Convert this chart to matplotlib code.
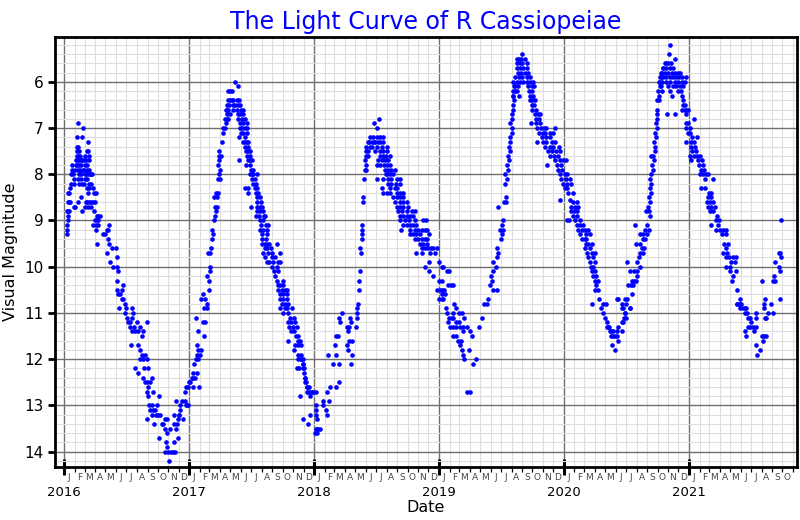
import numpy as np
import matplotlib
matplotlib.use('Agg')
from matplotlib import pyplot as plt
import matplotlib.dates as mdates
import matplotlib.transforms as mtransforms

# observations: (days since 2016-01-01, visual magnitude)
cycle_2016 = [
    (8, 9.3), (8, 9.2), (9, 9.1), (10, 9.0), (12, 8.9), (9, 8.8), (12, 8.8), (14, 8.8), (12, 8.6), (15, 8.6),
    (18, 8.6), (12, 8.4), (15, 8.4), (17, 8.3), (20, 8.2), (19, 8.0), (22, 7.9), (24, 7.8), (26, 8.0), (28, 8.1),
    (30, 8.2), (32, 7.9), (34, 7.7), (36, 7.8), (28, 8.7), (33, 8.7), (42, 6.9), (39, 7.2), (52, 7.2), (39, 7.4),
    (41, 7.4), (37, 7.5), (45, 7.5), (38, 7.6), (42, 7.6), (46, 7.6), (40, 7.7), (44, 7.7), (48, 7.7), (52, 7.7),
    (37, 7.8), (43, 7.8), (50, 7.8), (41, 7.9), (47, 7.9), (55, 7.9), (44, 8.0), (50, 8.0), (40, 8.1), (48, 8.1),
    (45, 8.2), (53, 8.2), (50, 8.5), (42, 8.6), (52, 8.8), (56, 7.0), (69, 7.3), (66, 7.5), (70, 7.5), (60, 7.6),
    (74, 7.6), (58, 7.7), (64, 7.7), (72, 7.7), (62, 7.8), (68, 7.8), (58, 7.9), (66, 7.9), (74, 7.9), (60, 8.0),
    (64, 8.0), (70, 8.0), (76, 8.0), (62, 8.1), (68, 8.1), (58, 8.2), (72, 8.2), (66, 8.3), (74, 8.3), (70, 8.4),
    (63, 8.6), (68, 8.6), (74, 8.6), (62, 8.7), (70, 8.7), (78, 8.0), (82, 8.0), (80, 8.2), (84, 8.3), (86, 8.4),
    (92, 8.4), (78, 8.6), (84, 8.6), (90, 8.6), (80, 8.7), (88, 8.8), (90, 9.0), (95, 9.0), (84, 9.1), (94, 9.1),
    (92, 9.2), (95, 8.9), (96, 9.5), (98, 8.9), (104, 8.9), (100, 9.0), (99, 9.1), (115, 9.3), (120, 9.3), (125, 9.2),
    (128, 9.2), (130, 9.1), (128, 9.4), (130, 9.5), (125, 9.7), (135, 9.9), (140, 9.6), (152, 9.6), (144, 10.0), (154, 10.0),
    (159, 10.1), (154, 9.8), (154, 10.3), (173, 10.4), (156, 10.5), (159, 10.6), (164, 10.6), (169, 10.5), (161, 10.9), (169, 10.7),
    (173, 10.7), (178, 10.8), (181, 10.9), (178, 11.0), (183, 11.1), (188, 11.2), (193, 11.2), (198, 11.1), (201, 11.0), (198, 10.9),
    (193, 11.3), (198, 11.4), (203, 11.3), (207, 11.4), (212, 11.2), (217, 11.4), (222, 11.3), (227, 11.5), (232, 11.4), (241, 11.2),
    (196, 11.7), (206, 12.2), (215, 12.3), (217, 11.7), (222, 11.8), (227, 11.9), (222, 12.0), (232, 12.0), (236, 11.9), (241, 12.0),
    (246, 12.2), (234, 12.2), (230, 12.4), (236, 12.5), (241, 12.5), (246, 12.6), (251, 12.5), (256, 12.4), (261, 12.7), (241, 12.7),
    (244, 12.8), (249, 13.0), (256, 13.0), (261, 13.1), (266, 13.1), (271, 13.0), (276, 12.8), (275, 13.2), (243, 13.3), (263, 13.4),
    (251, 13.1), (256, 13.2), (268, 13.2), (280, 13.2), (278, 13.7), (285, 13.4), (290, 13.4), (295, 13.3), (300, 13.3), (295, 13.5),
    (300, 13.6), (298, 13.8), (302, 13.9), (305, 14.0), (295, 14.0), (307, 14.2), (310, 13.5), (320, 13.4), (321, 13.8), (324, 14.0),
    (326, 12.9), (327, 13.5), (329, 13.4), (333, 13.7), (334, 13.3), (336, 13.2), (339, 13.1), (339, 13.0), (344, 12.9), (349, 13.3),
    (354, 12.9), (357, 13.0), (359, 13.0), (352, 12.7), (357, 12.6), (313, 14.0), (319, 14.0), (322, 13.2), (337, 13.2), (363, 13.0),
]

cycle_2017 = [
    (363, 12.6), (368, 12.5), (373, 12.4), (378, 12.4), (383, 12.4), (376, 12.3), (388, 12.3), (366, 12.5), (381, 12.1), (386, 12.0),
    (392, 12.0), (390, 11.9), (397, 11.9), (392, 11.8), (399, 11.8), (388, 11.7), (378, 12.6), (395, 12.6), (392, 11.4), (386, 11.1),
    (407, 11.2), (412, 11.2), (410, 11.5), (400, 10.7), (407, 10.6), (412, 10.7), (417, 10.8), (419, 10.9), (409, 10.9), (425, 10.5),
    (418, 10.2), (424, 10.3), (428, 10.1), (427, 10.0), (422, 9.7), (427, 9.7), (429, 9.6), (432, 9.4), (436, 9.3), (433, 9.2),
    (439, 9.0), (441, 8.9), (444, 8.8), (446, 8.7), (441, 8.7), (439, 8.5), (446, 8.5), (444, 8.4), (451, 8.4), (451, 8.1),
    (456, 8.1), (454, 8.0), (456, 7.9), (451, 7.8), (453, 7.7), (454, 7.6), (458, 7.6), (454, 7.5), (461, 7.3), (466, 7.1),
    (470, 7.0), (466, 7.0), (473, 6.9), (470, 6.8), (475, 6.8), (477, 6.7), (473, 6.6), (480, 6.6), (477, 6.5), (483, 6.5),
    (480, 6.4), (485, 6.4), (478, 6.2), (485, 6.2), (490, 6.2), (500, 6.0), (509, 6.1),
    (490, 6.4), (495, 6.4), (505, 6.4), (512, 6.4), (493, 6.5), (500, 6.5), (509, 6.5), (514, 6.5), (475, 6.6), (495, 6.6),
    (505, 6.6), (517, 6.6), (522, 6.6), (485, 6.7), (507, 6.7), (514, 6.7), (524, 6.7), (480, 6.8), (509, 6.8), (519, 6.8),
    (529, 6.8), (514, 6.9), (524, 6.9), (534, 6.9), (514, 7.0), (519, 7.0), (529, 7.0), (534, 7.0), (517, 7.1), (524, 7.1),
    (534, 7.1), (512, 7.2), (529, 7.2), (524, 7.3), (529, 7.3), (534, 7.3), (539, 7.3), (529, 7.4), (539, 7.4), (532, 7.5),
    (539, 7.5), (544, 7.5), (534, 7.6), (544, 7.6), (512, 7.7), (539, 7.7), (544, 7.7), (548, 7.7), (532, 7.8), (544, 7.8),
    (545, 7.9), (551, 7.9), (544, 8.0), (548, 8.0), (553, 8.0), (563, 8.0), (548, 8.1), (558, 8.1), (553, 8.2), (561, 8.2),
    (529, 8.3), (539, 8.3), (558, 8.3), (563, 8.3), (539, 8.4), (561, 8.4), (568, 8.4), (563, 8.5), (573, 8.5), (565, 8.6),
    (575, 8.6), (545, 8.7), (563, 8.7), (573, 8.7), (578, 8.7), (563, 8.8), (573, 8.8), (582, 8.8), (561, 8.9), (571, 8.9),
    (584, 8.9), (587, 8.9), (573, 9.0), (582, 9.0), (576, 9.1), (590, 9.1), (597, 9.1), (573, 9.2), (582, 9.2), (594, 9.2),
    (578, 9.3), (594, 9.3), (578, 9.4), (590, 9.4), (578, 9.5), (587, 9.5), (594, 9.5), (600, 9.5), (623, 9.5), (587, 9.6),
    (594, 9.6), (604, 9.6), (582, 9.7), (597, 9.7), (607, 9.7), (631, 9.7), (587, 9.8), (607, 9.8), (617, 9.8), (592, 9.9),
    (600, 9.9), (612, 9.9), (626, 9.9), (631, 9.9), (607, 10.0), (621, 10.0), (614, 10.1), (626, 10.1), (617, 10.2), (621, 10.3),
    (639, 10.3), (626, 10.4), (631, 10.4), (641, 10.4), (626, 10.5), (636, 10.5), (646, 10.5), (651, 10.5), (631, 10.6), (641, 10.6),
    (653, 10.6), (631, 10.7), (641, 10.7), (651, 10.7), (636, 10.8), (646, 10.8), (655, 10.8), (631, 10.9), (646, 10.9), (653, 10.9),
    (665, 10.9), (641, 11.0), (655, 11.0), (660, 11.1), (672, 11.1), (655, 11.2), (663, 11.2), (675, 11.2), (658, 11.3), (668, 11.3),
    (680, 11.3), (662, 11.4), (672, 11.4), (678, 11.5), (685, 11.5), (655, 11.6), (683, 11.6), (675, 11.7), (685, 11.7), (672, 11.8),
    (685, 11.9), (693, 11.9), (685, 12.0), (693, 12.0), (697, 12.0), (680, 12.2), (688, 12.2), (701, 12.2), (697, 12.1), (704, 12.4),
    (707, 12.5), (711, 12.6), (717, 12.6), (714, 12.7), (719, 12.7), (724, 12.7), (735, 12.7), (690, 12.8), (736, 13.0), (697, 13.3),
    (714, 13.4), (719, 13.2), (736, 13.2), (738, 13.3), (743, 13.5), (738, 13.6),
]

cycle_2018 = [
    (690, 11.6), (693, 11.7), (694, 12.0), (699, 12.1), (697, 12.2), (701, 12.3), (704, 12.4), (704, 12.5), (709, 12.6), (711, 12.7),
    (729, 12.7), (719, 12.8), (758, 13.0), (756, 12.9), (775, 12.9), (736, 13.1), (766, 13.1), (768, 13.2), (735, 13.5), (740, 13.5),
    (748, 13.5), (733, 13.6), (768, 12.7), (777, 12.6), (795, 12.6), (805, 12.5), (787, 12.1), (795, 11.9), (805, 12.1), (772, 11.9),
    (792, 11.7), (795, 11.5), (802, 11.5), (806, 11.2), (805, 11.1), (811, 11.0), (831, 11.8), (826, 11.7), (834, 11.6), (841, 11.9),
    (838, 12.1), (841, 11.6), (826, 11.3), (834, 11.3), (831, 11.4), (838, 11.2), (836, 11.1), (853, 11.3), (855, 11.1), (857, 11.0),
    (855, 10.9), (860, 10.8), (863, 10.5), (863, 10.3), (865, 10.1), (867, 9.7), (865, 9.6), (870, 9.4), (870, 9.3), (872, 9.2),
    (872, 9.1), (875, 8.6), (875, 8.5), (877, 8.1), (879, 7.9), (882, 7.9), (884, 7.8), (879, 7.7), (884, 7.6), (889, 7.6),
    (889, 7.5), (894, 7.4), (899, 7.4), (892, 7.3), (906, 7.3), (906, 6.9), (914, 7.0), (920, 6.8),
    (894, 7.2), (904, 7.2), (914, 7.2), (923, 7.2), (931, 7.2), (889, 7.3), (899, 7.3), (909, 7.3), (918, 7.3), (923, 7.3),
    (933, 7.3), (884, 7.4), (914, 7.4), (928, 7.4), (945, 7.4), (884, 7.5), (909, 7.5), (923, 7.5), (933, 7.5), (945, 7.5),
    (923, 7.6), (931, 7.6), (941, 7.6), (953, 7.6), (918, 7.7), (928, 7.7), (938, 7.7), (948, 7.7), (914, 7.8), (923, 7.8),
    (935, 7.8), (945, 7.8), (953, 7.8), (938, 7.9), (948, 7.9), (957, 7.9), (967, 7.9), (941, 8.0), (945, 8.0), (953, 8.0),
    (962, 8.0), (914, 8.1), (931, 8.1), (948, 8.1), (957, 8.1), (972, 8.1), (982, 8.1), (948, 8.2), (957, 8.2), (970, 8.2),
    (982, 8.2), (928, 8.3), (953, 8.3), (967, 8.3), (974, 8.3), (931, 8.4), (945, 8.4), (953, 8.4), (972, 8.4), (982, 8.4),
    (990, 8.4), (962, 8.5), (972, 8.5), (982, 8.5), (992, 8.5), (967, 8.6), (982, 8.6), (992, 8.6), (1001, 8.6), (972, 8.7),
    (982, 8.7), (992, 8.7), (1006, 8.7), (977, 8.8), (987, 8.8), (1001, 8.8), (1016, 8.8), (1026, 8.8), (982, 8.9), (992, 8.9),
    (1001, 8.9), (1011, 8.9), (1021, 8.9), (982, 9.0), (996, 9.0), (1009, 9.0), (1026, 9.0), (1050, 9.0), (1058, 9.0), (992, 9.1),
    (1001, 9.1), (1011, 9.1), (1021, 9.1), (1030, 9.1), (984, 9.2), (1011, 9.2), (1026, 9.2), (1035, 9.2), (1045, 9.2), (1055, 9.2),
    (1060, 9.2), (1011, 9.3), (1021, 9.3), (1030, 9.3), (1040, 9.3), (1067, 9.3), (1026, 9.4), (1035, 9.4), (1045, 9.4), (1055, 9.4),
    (1062, 9.4), (1040, 9.5), (1050, 9.5), (1060, 9.5), (1045, 9.6), (1055, 9.6), (1065, 9.6), (1072, 9.6), (1079, 9.6), (1089, 9.6),
    (1030, 9.7), (1045, 9.7), (1069, 9.7), (1084, 9.7), (1067, 9.9), (1097, 9.9), (1055, 10.0), (1104, 10.0), (1108, 10.0), (1067, 10.1),
    (1118, 10.1), (1126, 10.1), (1079, 10.2), (1097, 10.3), (1106, 10.3), (1123, 10.4), (1130, 10.4), (1138, 10.4), (1089, 10.5), (1099, 10.5),
    (1104, 10.5), (1110, 10.5), (1104, 10.6), (1113, 10.6), (1097, 10.7), (1104, 10.7), (1108, 10.7), (1140, 10.8), (1116, 10.9), (1145, 10.9),
    (1120, 11.0), (1138, 11.0), (1155, 11.0), (1162, 11.0), (1126, 11.1), (1133, 11.1), (1138, 11.1), (1169, 11.1), (1123, 11.2), (1147, 11.2),
    (1155, 11.2), (1128, 11.3), (1136, 11.3), (1145, 11.3), (1157, 11.3), (1165, 11.3), (1177, 11.3), (1167, 11.4), (1186, 11.4), (1136, 11.5),
    (1145, 11.5), (1193, 11.5), (1152, 11.6), (1160, 11.6), (1157, 11.7), (1162, 11.8), (1184, 11.8), (1167, 11.9), (1169, 12.0), (1204, 12.0),
    (1194, 12.1), (1177, 12.7), (1186, 12.7),
]

cycle_2019 = [
    (1214, 11.3), (1223, 11.1), (1227, 10.8), (1235, 10.8), (1240, 10.7), (1253, 10.5), (1266, 10.5), (1245, 10.4), (1250, 10.3), (1247, 10.2),
    (1255, 10.1), (1253, 9.9), (1262, 10.0), (1266, 9.8), (1269, 9.7), (1266, 9.6), (1276, 9.4), (1279, 9.3), (1274, 9.2), (1282, 9.2),
    (1279, 9.1), (1284, 9.0), (1269, 8.7), (1286, 8.6), (1292, 8.6), (1292, 8.5), (1289, 8.2), (1294, 8.1), (1289, 8.0), (1298, 7.9),
    (1295, 7.8), (1301, 7.7), (1298, 7.6), (1303, 7.5), (1300, 7.4), (1305, 7.3), (1303, 7.2), (1308, 7.1), (1308, 7.0), (1305, 6.9),
    (1310, 6.8), (1308, 6.7), (1311, 6.6), (1313, 6.5), (1315, 6.4), (1313, 6.3), (1318, 6.2), (1315, 6.1),
    (1340, 5.4), (1323, 5.5), (1331, 5.5), (1337, 5.5), (1347, 5.5), (1323, 5.6), (1332, 5.6), (1340, 5.6), (1352, 5.6), (1325, 5.7),
    (1332, 5.7), (1342, 5.7), (1352, 5.7), (1328, 5.8), (1337, 5.8), (1347, 5.8), (1357, 5.8), (1318, 5.9), (1331, 5.9), (1340, 5.9),
    (1352, 5.9), (1362, 5.9), (1313, 6.0), (1323, 6.0), (1332, 6.0), (1342, 6.0), (1352, 6.0), (1362, 6.0), (1371, 6.0), (1318, 6.1),
    (1328, 6.1), (1357, 6.1), (1367, 6.1), (1373, 6.1), (1313, 6.2), (1323, 6.2), (1360, 6.2), (1369, 6.2), (1313, 6.3), (1331, 6.3),
    (1362, 6.3), (1371, 6.3), (1362, 6.4), (1369, 6.4), (1376, 6.4), (1367, 6.5), (1373, 6.5), (1369, 6.6), (1381, 6.6), (1376, 6.7),
    (1386, 6.7), (1391, 6.7), (1379, 6.8), (1389, 6.8), (1364, 6.9), (1381, 6.9), (1391, 6.9), (1383, 7.0), (1393, 7.0), (1403, 7.0),
    (1410, 7.0), (1435, 7.0), (1389, 7.1), (1399, 7.1), (1406, 7.1), (1420, 7.1), (1430, 7.1), (1396, 7.2), (1410, 7.2), (1420, 7.2),
    (1383, 7.3), (1401, 7.3), (1410, 7.3), (1425, 7.3), (1435, 7.3), (1406, 7.4), (1420, 7.4), (1430, 7.4), (1447, 7.4), (1415, 7.5),
    (1425, 7.5), (1438, 7.5), (1449, 7.5), (1420, 7.6), (1432, 7.6), (1444, 7.6), (1435, 7.7), (1449, 7.7), (1459, 7.7), (1467, 7.7),
    (1413, 7.8), (1442, 7.8), (1454, 7.8), (1444, 7.9), (1457, 7.9), (1449, 8.0), (1464, 8.0), (1471, 8.0), (1454, 8.1), (1467, 8.1),
    (1479, 8.1), (1459, 8.2), (1471, 8.2), (1483, 8.2), (1464, 8.3), (1471, 8.3), (1474, 8.4), (1488, 8.4), (1451, 8.55), (1479, 8.55),
    (1488, 8.6), (1498, 8.6), (1483, 8.7), (1493, 8.7), (1503, 8.7), (1481, 8.8), (1490, 8.8), (1500, 8.8), (1488, 8.9), (1498, 8.9),
    (1471, 9.0), (1477, 9.0), (1493, 9.0), (1508, 9.0), (1498, 9.1), (1508, 9.1), (1516, 9.1), (1503, 9.2), (1513, 9.2), (1522, 9.2),
    (1532, 9.2), (1508, 9.3), (1525, 9.3), (1537, 9.3), (1513, 9.4), (1522, 9.4), (1527, 9.4), (1525, 9.5), (1532, 9.5), (1542, 9.5),
    (1522, 9.6), (1537, 9.6), (1529, 9.7), (1542, 9.7), (1552, 9.7), (1532, 9.8), (1547, 9.8), (1537, 9.9), (1552, 9.9), (1540, 10.0),
    (1547, 10.0), (1544, 10.1), (1552, 10.1), (1547, 10.2), (1555, 10.2), (1552, 10.3), (1561, 10.3), (1556, 10.4), (1552, 10.5), (1561, 10.5),
    (1564, 10.7), (1615, 10.7), (1542, 10.8), (1574, 10.8), (1584, 10.8), (1571, 10.9), (1576, 11.0), (1581, 11.1), (1586, 11.2), (1586, 11.3),
    (1593, 11.3), (1595, 11.4), (1605, 11.4), (1615, 11.4), (1600, 11.5), (1605, 11.5), (1610, 11.5), (1615, 11.5), (1620, 10.7), (1632, 10.8),
    (1644, 10.8), (1632, 10.9), (1654, 10.9), (1639, 11.0), (1636, 11.1), (1642, 11.1), (1634, 11.2), (1620, 11.3), (1620, 11.6), (1603, 11.7),
    (1610, 11.8), (1598, 11.4), (1591, 11.3),
]

cycle_2020 = [
    (1630, 11.4), (1632, 11.2), (1639, 11.0), (1634, 10.9), (1639, 10.7), (1646, 10.7), (1659, 10.6), (1654, 10.9), (1649, 10.4), (1656, 10.4),
    (1662, 10.4), (1659, 10.3), (1666, 10.3), (1671, 10.3), (1675, 10.2), (1654, 10.1), (1666, 10.1), (1675, 10.1), (1646, 9.9), (1675, 9.9),
    (1683, 10.0), (1681, 9.8), (1685, 9.7), (1691, 9.7), (1688, 9.6), (1685, 9.5), (1695, 9.6), (1691, 9.4), (1698, 9.4), (1685, 9.3),
    (1693, 9.3), (1703, 9.3), (1671, 9.5), (1668, 9.1), (1698, 9.2), (1704, 9.1), (1710, 9.2), (1701, 8.8), (1712, 8.9), (1710, 8.8),
    (1707, 8.7), (1714, 8.6), (1710, 8.5), (1717, 8.4), (1714, 8.3), (1717, 8.2), (1712, 8.1), (1717, 8.0), (1722, 7.9), (1720, 7.8),
    (1724, 7.7), (1722, 7.6), (1717, 7.6), (1726, 7.5), (1727, 7.4), (1724, 7.3), (1730, 7.2), (1727, 7.1), (1732, 7.0), (1730, 6.9),
    (1734, 6.8), (1732, 6.7), (1732, 6.6), (1734, 6.4), (1740, 6.3), (1737, 6.2), (1741, 6.1), (1743, 6.0), (1746, 5.9), (1749, 5.8),
    (1751, 5.7), (1756, 5.6), (1766, 5.6), (1769, 5.4), (1771, 5.2),
    (1785, 5.5), (1761, 5.6), (1773, 5.6), (1751, 5.7), (1761, 5.7), (1771, 5.7), (1780, 5.7), (1746, 5.8), (1756, 5.8), (1766, 5.8),
    (1776, 5.8), (1785, 5.8), (1795, 5.8), (1800, 5.8), (1743, 5.9), (1751, 5.9), (1761, 5.9), (1771, 5.9), (1780, 5.9), (1790, 5.9),
    (1798, 5.9), (1805, 5.9), (1817, 5.9), (1740, 6.0), (1749, 6.0), (1761, 6.0), (1771, 6.0), (1785, 6.0), (1795, 6.0), (1805, 6.0),
    (1815, 6.0), (1746, 6.1), (1766, 6.1), (1780, 6.1), (1790, 6.1), (1800, 6.1), (1808, 6.1), (1749, 6.2), (1771, 6.2), (1795, 6.2),
    (1803, 6.2), (1778, 6.3), (1805, 6.3), (1740, 6.4), (1808, 6.4), (1810, 6.5), (1816, 6.5), (1805, 6.6), (1815, 6.6), (1819, 6.6),
    (1824, 6.6), (1763, 6.7), (1785, 6.7), (1819, 6.7), (1841, 6.8), (1817, 6.9), (1824, 6.9), (1819, 7.0), (1829, 7.0), (1824, 7.1),
    (1831, 7.1), (1837, 7.2), (1851, 7.2), (1819, 7.3), (1834, 7.3), (1841, 7.3), (1834, 7.4), (1844, 7.4), (1837, 7.5), (1847, 7.5),
    (1831, 7.6), (1841, 7.6), (1851, 7.6), (1858, 7.6), (1834, 7.7), (1853, 7.7), (1866, 7.7), (1856, 7.8), (1868, 7.8), (1863, 7.9),
    (1870, 7.9), (1860, 8.0), (1868, 8.0), (1876, 8.0), (1883, 8.0), (1873, 8.1), (1897, 8.1), (1863, 8.3), (1873, 8.3), (1886, 8.4),
    (1892, 8.4), (1883, 8.5), (1890, 8.5), (1880, 8.6), (1888, 8.6), (1897, 8.6), (1883, 8.7), (1892, 8.7), (1902, 8.7), (1888, 8.8),
    (1897, 8.8), (1909, 8.9), (1905, 9.0), (1915, 9.0), (1892, 9.1), (1912, 9.1), (1907, 9.2), (1917, 9.2), (1927, 9.2), (1934, 9.2),
    (1922, 9.3), (1936, 9.3), (1928, 9.5), (1941, 9.5), (1934, 9.6), (1927, 9.7), (1938, 9.7), (1934, 9.8), (1944, 9.8), (1956, 9.8),
    (1964, 9.8), (1951, 9.9), (1961, 9.9), (1936, 10.0), (1946, 10.0), (1946, 10.1), (1964, 10.1), (1956, 10.2), (1954, 10.3), (1966, 10.5),
    (1977, 10.7), (1967, 10.8), (1975, 10.8), (1980, 10.8), (1966, 10.8), (1973, 10.8), (1977, 10.9), (1985, 10.9), (1990, 10.9), (1993, 10.9),
    (1995, 11.0), (1990, 11.0), (2000, 11.1), (2006, 11.1), (2022, 11.0), (2022, 11.1), (2009, 11.2), (2000, 11.3), (2005, 11.3), (2014, 11.3),
    (2022, 11.3), (1990, 11.4), (2016, 11.4), (1993, 11.5), (2039, 11.5), (2045, 11.5), (2051, 11.5), (2042, 11.6), (2022, 11.7), (2034, 11.8),
    (2027, 11.9), (2045, 10.9), (2058, 11.0), (2073, 11.0), (2051, 11.1), (2068, 10.8), (2045, 10.8), (2048, 10.7), (2041, 10.3), (2073, 10.3),
    (2078, 10.3), (2075, 10.2), (2092, 10.1), (2090, 10.0), (2078, 9.9), (2095, 9.8), (2090, 9.7), (2094, 9.7), (2097, 9.0), (2092, 10.7),
    (2048, 11.1),
]

month_letters = ['J', 'F', 'M', 'A', 'M', 'J', 'J', 'A', 'S', 'O', 'N', 'D']

obs = np.array(cycle_2016 + cycle_2017 + cycle_2018 + cycle_2019 + cycle_2020)
start = np.datetime64('2016-01-01')
dates = start + obs[:, 0].astype(int).astype('timedelta64[D]')
mags = obs[:, 1]

fig = plt.figure(figsize=(8, 5.2), dpi=100)
ax = fig.add_axes([0.069, 0.102, 0.927, 0.827])

ax.plot(dates, mags, linestyle='none', marker='o', markersize=2.3, color='blue')

ax.set_xlim(np.datetime64('2015-12-06'), np.datetime64('2021-11-12'))
ax.set_ylim(14.33, 5.03)

ax.xaxis.set_major_locator(mdates.YearLocator())
ax.xaxis.set_major_formatter(mdates.DateFormatter('%Y'))
ax.xaxis.set_minor_locator(mdates.MonthLocator())
ax.yaxis.set_major_locator(plt.MultipleLocator(1))
ax.yaxis.set_minor_locator(plt.MultipleLocator(0.2))

ax.grid(which='major', color='#707070', linewidth=1.0)
ax.grid(which='minor', color='#dedede', linewidth=0.8)
ax.set_axisbelow(True)

for s in ax.spines.values():
    s.set_linewidth(2.0)

ax.tick_params(axis='x', which='major', direction='inout', length=11, width=2.2, pad=8, labelsize=9.5)
ax.tick_params(axis='x', which='minor', direction='out', length=3.5, width=0.9)
ax.tick_params(axis='y', which='major', direction='out', length=5, width=2, labelsize=11)
ax.tick_params(axis='y', which='minor', length=0)

# month initials under the axis
trans = mtransforms.blended_transform_factory(ax.transData, ax.transAxes)
for y in range(2016, 2022):
    for m in range(12):
        if y == 2021 and m > 9:
            break
        mid = np.datetime64(f'{y}-{m + 1:02d}-15')
        ax.text(mid, -0.025, month_letters[m], transform=trans, ha='center', va='center',
                fontsize=6.5, color='#444444')

ax.set_title('The Light Curve of R Cassiopeiae', color='blue', fontsize=17, pad=6)
ax.set_xlabel('Date', fontsize=11.5, labelpad=1)
ax.set_ylabel('Visual Magnitude', fontsize=11.5, labelpad=4)

fig.savefig('out.png', dpi=100)
